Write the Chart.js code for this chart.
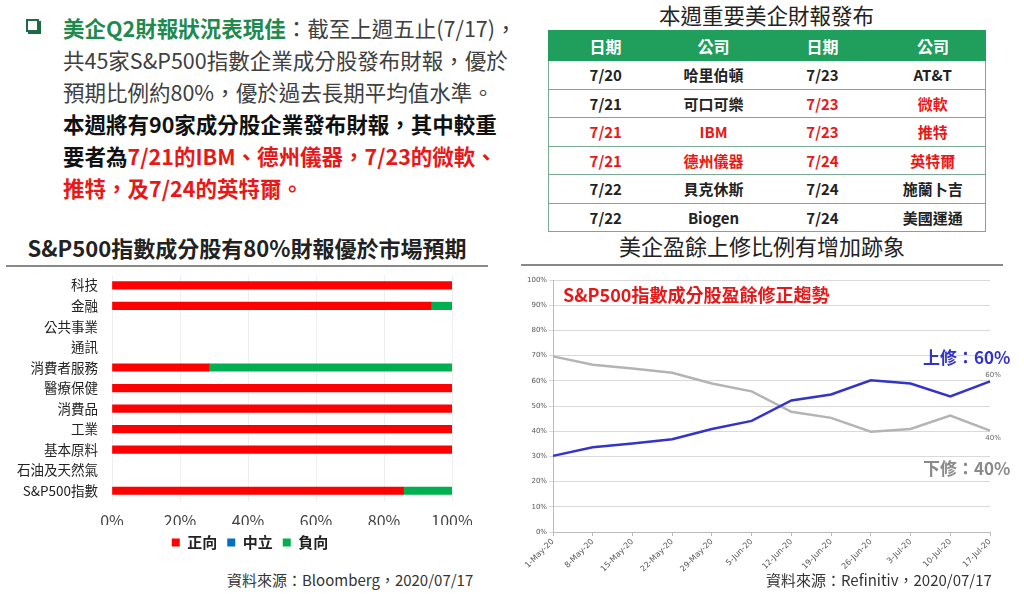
<!DOCTYPE html>
<html>
<head>
<meta charset="utf-8">
<script src="https://cdn.jsdelivr.net/npm/chart.js@4.4.0/dist/chart.umd.min.js"></script>
<style>
  body { margin: 0; width: 1024px; height: 594px; background: #fff; position: relative; overflow: hidden;
         font-family: 'Noto Sans CJK TC', 'Noto Sans', sans-serif; }
  .abs { position: absolute; }
  #intro { left: 63px; top: 12px; width: 470px; font-size: 21.5px; line-height: 32px; color: #404040; white-space: nowrap; }
  #intro .g { color: #1f8a4f; font-weight: bold; }
  #intro .b { color: #111; font-weight: bold; }
  #intro .r { color: #e81818; font-weight: bold; }
  #box { left: 26px; top: 19px; width: 9px; height: 9px; border: 2px solid #1d6b45; box-shadow: 2px 2px 0 #1d6b45; }
  #tblTitle { left: 548px; top: 0; width: 437px; text-align: center; font-size: 21.5px; line-height: 30px; color: #222; }
  table { position: absolute; left: 548px; top: 30px; width: 437px; border-collapse: collapse; table-layout: fixed;
          font-size: 15px; font-weight: bold; color: #222; }
  th { background: #1f9e5c; color: #fff; height: 29px; padding: 0; font-size: 16px; border: 1px solid #1f9e5c; }
  td { height: 27.5px; padding: 0; text-align: center; border-top: 1px solid #7aa894; border-bottom: 1px solid #7aa894; }
  td:first-child { border-left: 1px solid #7aa894; }
  td:last-child { border-right: 1px solid #7aa894; }
  td.r { color: #e81818; }
  .title { font-size: 22px; line-height: 30px; text-align: center; color: #222; }
  .rule { height: 2px; background: #888; }
  .src { font-size: 15px; color: #333; line-height: 20px; }
</style>
</head>
<body>
<div id="box" class="abs"></div>
<div id="intro" class="abs">
  <span class="g">美企Q2財報狀況表現佳</span>：截至上週五止(7/17)，<br>
  共45家S&amp;P500指數企業成分股發布財報，優於<br>
  預期比例約80%，優於過去長期平均值水準。<br>
  <span class="b">本週將有90家成分股企業發布財報，其中較重</span><br>
  <span class="b">要者為</span><span class="r">7/21的IBM、德州儀器，7/23的微軟、</span><br>
  <span class="r">推特，及7/24的英特爾。</span>
</div>

<div id="tblTitle" class="abs">本週重要美企財報發布</div>
<table>
  <colgroup><col style="width:114px"><col style="width:102px"><col style="width:116px"><col style="width:105px"></colgroup>
  <tr><th>日期</th><th>公司</th><th>日期</th><th>公司</th></tr>
  <tr><td>7/20</td><td>哈里伯頓</td><td>7/23</td><td>AT&amp;T</td></tr>
  <tr><td>7/21</td><td>可口可樂</td><td class="r">7/23</td><td class="r">微軟</td></tr>
  <tr><td class="r">7/21</td><td class="r">IBM</td><td class="r">7/23</td><td class="r">推特</td></tr>
  <tr><td class="r">7/21</td><td class="r">德州儀器</td><td class="r">7/24</td><td class="r">英特爾</td></tr>
  <tr><td>7/22</td><td>貝克休斯</td><td>7/24</td><td>施蘭卜吉</td></tr>
  <tr><td>7/22</td><td>Biogen</td><td>7/24</td><td>美國運通</td></tr>
</table>

<div class="abs title" style="left:6px; top:232px; width:482px; font-weight:bold;">S&amp;P500指數成分股有80%財報優於市場預期</div>
<div class="abs rule" style="left:6px; top:265px; width:482px;"></div>
<div class="abs" style="left:0; top:253px; width:500px; height:307px;"><canvas id="barChart"></canvas></div>
<div class="abs src" style="left:227px; top:570px;">資料來源：Bloomberg，2020/07/17</div>

<div class="abs title" style="left:521px; top:230px; width:482px;">美企盈餘上修比例有增加跡象</div>
<div class="abs rule" style="left:521px; top:264px; width:482px;"></div>
<div class="abs" style="left:510px; top:272px; width:514px; height:305px;"><canvas id="lineChart"></canvas></div>
<div class="abs" style="left:563px; top:282px; font-size:18px; font-weight:bold; color:#e81818; line-height:24px;">S&amp;P500指數成分股盈餘修正趨勢</div>
<div class="abs" style="left:923px; top:345px; font-size:17px; font-weight:bold; color:#3434c8; line-height:24px;">上修：60%</div>
<div class="abs" style="left:923px; top:456px; font-size:17px; font-weight:bold; color:#8a8a8a; line-height:24px;">下修：40%</div>
<div class="abs src" style="left:766px; top:570px;">資料來源：Refinitiv，2020/07/17</div>

<script>
const sectors = ['科技', '金融', '公共事業', '通訊', '消費者服務', '醫療保健', '消費品', '工業', '基本原料', '石油及天然氣', 'S&P500指數'];
const positive = [100, 93.8, 0, 0, 28.5, 100, 100, 100, 100, 0, 85.7];
const neutral = [0, 0, 0, 0, 0, 0, 0, 0, 0, 0, 0];
const negative = [0, 6.2, 0, 0, 71.5, 0, 0, 0, 0, 0, 14.3];
const pctTicks = [0, 20, 40, 60, 80, 100];

const weeks = ['1-May-20', '8-May-20', '15-May-20', '22-May-20', '29-May-20', '5-Jun-20',
               '12-Jun-20', '19-Jun-20', '26-Jun-20', '3-Jul-20', '10-Jul-20', '17-Jul-20'];
const upward = [30.2, 33.6, 35.1, 36.8, 40.9, 44.1, 52.2, 54.6, 60.2, 58.9, 53.8, 59.8];
const downward = [69.7, 66.4, 64.9, 63.2, 58.9, 55.8, 47.7, 45.3, 39.8, 40.9, 46.2, 40.2];

const cjk = "'Noto Sans CJK TC', sans-serif";
// empty sectors should draw nothing at all
const noZero = arr => arr.map(v => v || null);

const barChart = new Chart(document.getElementById('barChart'), {
  type: 'bar',
  data: {
    labels: sectors,
    datasets: [
      { label: '正向', data: noZero(positive), backgroundColor: '#ff0000' },
      { label: '中立', data: noZero(neutral), backgroundColor: '#0070c0' },
      { label: '負向', data: noZero(negative), backgroundColor: '#00b050' }
    ]
  },
  options: {
    indexAxis: 'y',
    responsive: true,
    maintainAspectRatio: false,
    animation: false,
    barThickness: 7.5,
    layout: { padding: 0 },
    plugins: {
      tooltip: { enabled: false },
      legend: {
        position: 'bottom',
        labels: { boxWidth: 8, boxHeight: 8, padding: 10, color: '#222', font: { family: cjk, size: 15, weight: 'bold' } }
      }
    },
    scales: {
      x: {
        stacked: true, min: 0, max: 100,
        afterBuildTicks: (s) => { s.ticks = pctTicks.map(v => ({ value: v })); },
        ticks: { callback: v => v + '%', color: '#444', padding: 10, font: { family: cjk, size: 16 } },
        grid: { color: '#efefef', drawTicks: false },
        border: { display: false },
        afterFit: (s) => { s.height = 24; }
      },
      y: {
        stacked: true,
        ticks: { autoSkip: false, color: '#222', padding: 14, font: { family: cjk, size: 13.5 } },
        grid: { display: false, drawTicks: false },
        border: { display: false },
        afterFit: (s) => { s.width = 112; }
      },
      // empty right-hand axis: keeps room for the "100%" tick and centres the legend
      yRight: {
        type: 'category',
        position: 'right',
        ticks: { display: false },
        grid: { display: false, drawTicks: false },
        border: { display: false },
        afterFit: (s) => { s.width = 48; }
      }
    }
  }
});

const endLabels = {
  id: 'endLabels',
  afterDatasetsDraw(chart) {
    const ctx = chart.ctx;
    ctx.save();
    ctx.font = "7px 'DejaVu Sans', sans-serif";
    ctx.fillStyle = '#666';
    ctx.textAlign = 'center';
    chart.data.datasets.forEach((ds, i) => {
      const pts = chart.getDatasetMeta(i).data;
      const p = pts[pts.length - 1];
      const v = ds.data[ds.data.length - 1];
      const above = v >= 50;
      ctx.textBaseline = above ? 'bottom' : 'top';
      ctx.fillText(Math.round(v) + '%', p.x + 3, above ? p.y - 3 : p.y + 4);
    });
    ctx.restore();
  }
};

const lineChart = new Chart(document.getElementById('lineChart'), {
  type: 'line',
  data: {
    labels: weeks,
    datasets: [
      { label: '上修', data: upward, borderColor: '#3434c8', borderWidth: 2.5, pointRadius: 0, tension: 0 },
      { label: '下修', data: downward, borderColor: '#b4b4b4', borderWidth: 2.5, pointRadius: 0, tension: 0 }
    ]
  },
  plugins: [endLabels],
  options: {
    responsive: true,
    maintainAspectRatio: false,
    animation: false,
    layout: { padding: { top: 8, right: 34, left: 0, bottom: 0 } },
    plugins: { legend: { display: false }, tooltip: { enabled: false } },
    scales: {
      x: {
        offset: false,
        ticks: { minRotation: 45, maxRotation: 45, autoSkip: false, color: '#555', padding: 1, font: { family: "'DejaVu Sans', sans-serif", size: 8 } },
        grid: { drawOnChartArea: false, drawTicks: true, tickLength: 4, tickColor: '#bbb' },
        border: { color: '#bbb' },
        afterFit: (s) => { s.height = 45; }
      },
      y: {
        min: 0, max: 100,
        ticks: { stepSize: 10, callback: v => v + '%', color: '#555', padding: 2, font: { family: "'DejaVu Sans', sans-serif", size: 7 } },
        grid: { color: '#d9d9d9', tickLength: 4 },
        border: { color: '#bbb' },
        afterFit: (s) => { s.width = 43; }
      }
    }
  }
});
</script>
</body>
</html>
